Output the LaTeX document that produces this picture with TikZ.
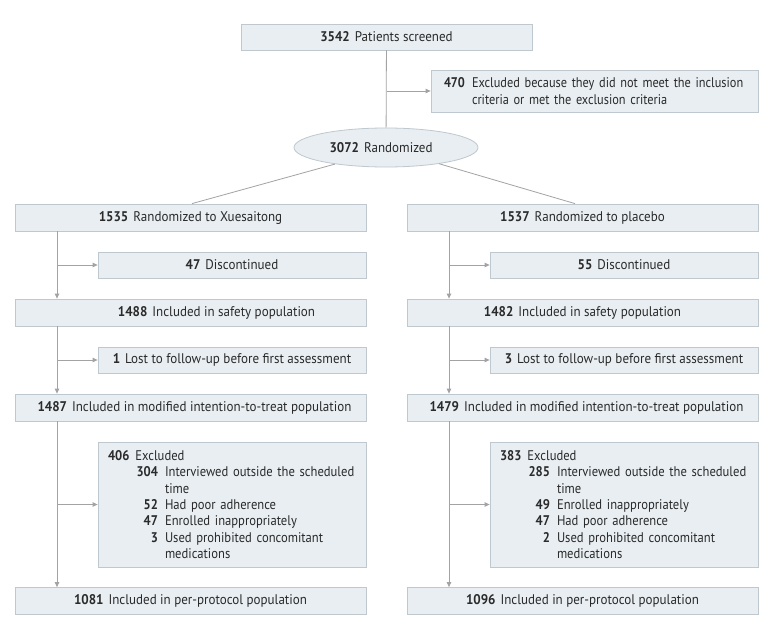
\documentclass[tikz,border=0pt]{standalone}
\usepackage{fontspec}
\setmainfont{PT Sans}[FakeStretch=0.93]
\newfontfamily\exclfont{PT Sans}[FakeStretch=0.88]
\newfontfamily\listfont{PT Sans}[FakeStretch=0.9]
\usetikzlibrary{arrows.meta,shapes.geometric}
\definecolor{boxfill}{HTML}{E8EEF2}
\definecolor{boxline}{HTML}{BFC8CF}
\definecolor{linecol}{HTML}{A3A3A3}
\definecolor{txt}{HTML}{2A2A2A}
\newcommand\cnum[1]{\textbf{#1}\hspace{5pt}}
\newcommand\subl[2]{\mbox{\makebox[50pt][r]{\textbf{#1}}\hspace{7pt}#2}}
\newcommand\contl[1]{\mbox{\hspace*{57pt}#1}}
\begin{document}
\begin{tikzpicture}[x=1pt,y=-1pt,
  every node/.style={font=\fontsize{14}{16.3}\selectfont, text=txt},
  box/.style={draw=boxline, fill=boxfill, line width=0.8pt, inner sep=0pt},
  mainbox/.style={box, minimum width=351pt, minimum height=27pt},
  sidebox/.style={box, minimum width=268pt, minimum height=26pt},
  listbox/.style={box, font=\listfont\fontsize{14}{16.3}\selectfont, text width=248pt, inner xsep=10pt, align=left, minimum height=125pt},
  conn/.style={draw=linecol, line width=0.8pt},
  arr/.style={conn, -{Triangle[length=5pt,width=4.5pt]}}
]
\useasboundingbox (0,0) rectangle (782,637);
\fill[white] (0,0) rectangle (782,637);

\node[box, minimum width=291pt, minimum height=26pt] (screen) at (386.5,37) {\cnum{3542}Patients screened};
\node[box, font=\exclfont\fontsize{14}{16.5}\selectfont, text width=301pt, inner xsep=13pt, align=left, minimum height=42pt] (excl) at (594.5,91)
  {\mbox{\makebox[28pt][l]{\textbf{470}}Excluded because they did not meet the inclusion}\\
   \mbox{\hspace*{28pt}criteria or met the exclusion criteria}};
\node[box, ellipse, minimum width=184pt, minimum height=39pt] (rand) at (386,147.5) {\cnum{3072}Randomized\hspace*{10pt}};

% left column
\node[mainbox] (L1) at (190.5,217.5) {\cnum{1535}Randomized to Xuesaitong};
\node[sidebox] (LD) at (232,265) {\cnum{47}Discontinued};
\node[mainbox] (L2) at (190.5,312.5) {\hspace*{52pt}\cnum{1488}Included in safety population};
\node[sidebox] (LL) at (232,360) {\cnum{1}Lost to follow-up before first assessment};
\node[mainbox] (L3) at (190.5,407.5) {\hspace*{8pt}\cnum{1487}Included in modified intention-to-treat population};
\node[listbox] (LX) at (232,504.5)
  {\mbox{\textbf{406}\hspace{6pt}Excluded}\\
   \subl{304}{Interviewed outside the scheduled}\\
   \contl{time}\\
   \subl{52}{Had poor adherence}\\
   \subl{47}{Enrolled inappropriately}\\
   \subl{3}{Used prohibited concomitant}\\
   \contl{medications}};
\node[mainbox] (L4) at (190.5,601) {\cnum{1081}Included in per-protocol population};

% right column
\node[mainbox] (R1) at (582.5,217.5) {\cnum{1537}Randomized to placebo};
\node[sidebox] (RD) at (624,265) {\cnum{55}Discontinued};
\node[mainbox] (R2) at (582.5,312.5) {\cnum{1482}Included in safety population};
\node[sidebox] (RL) at (624,360) {\cnum{3}Lost to follow-up before first assessment};
\node[mainbox] (R3) at (582.5,407.5) {\hspace*{8pt}\cnum{1479}Included in modified intention-to-treat population};
\node[listbox] (RX) at (624,504.5)
  {\mbox{\textbf{383}\hspace{6pt}Excluded}\\
   \subl{285}{Interviewed outside the scheduled}\\
   \contl{time}\\
   \subl{49}{Enrolled inappropriately}\\
   \subl{47}{Had poor adherence}\\
   \subl{2}{Used prohibited concomitant}\\
   \contl{medications}};
\node[mainbox] (R4) at (582.5,601) {\cnum{1096}Included in per-protocol population};

\coordinate (lx) at (57,0);
\coordinate (rx) at (449,0);

% top connectors
\draw[conn] (screen) -- (rand);
\draw[arr] (screen.south |- excl.west) -- (excl.west);
\draw[conn] (rand.-162) -- ([xshift=1.5pt]L1.north);
\draw[conn] (rand.-17) -- ([xshift=-7.5pt]R1.north);

% left flow
\draw[arr] (L1.south -| lx) -- (L2.north -| lx);
\draw[arr] (LD.west -| lx) -- (LD.west);
\draw[arr] (L2.south -| lx) -- (L3.north -| lx);
\draw[arr] (LL.west -| lx) -- (LL.west);
\draw[arr] (L3.south -| lx) -- (L4.north -| lx);
\draw[arr] (LX.west -| lx) -- (LX.west);

% right flow
\draw[arr] (R1.south -| rx) -- (R2.north -| rx);
\draw[arr] (RD.west -| rx) -- (RD.west);
\draw[arr] (R2.south -| rx) -- (R3.north -| rx);
\draw[arr] (RL.west -| rx) -- (RL.west);
\draw[arr] (R3.south -| rx) -- (R4.north -| rx);
\draw[arr] (RX.west -| rx) -- (RX.west);
\end{tikzpicture}
\end{document}
